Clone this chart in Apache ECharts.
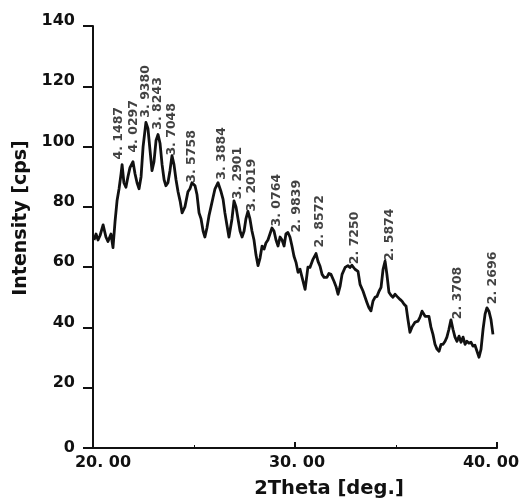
<!DOCTYPE html>
<html>
<head>
<meta charset="utf-8">
<script src="https://cdn.jsdelivr.net/npm/echarts@6/dist/echarts.min.js"></script>
<style>
html,body{margin:0;padding:0;background:#fff;}
#chart{width:529px;height:504px;}
</style>
</head>
<body>
<div id="chart"></div>
<script>
// 2Theta (deg.) positions of the traced pattern
const twoTheta = [20.05,20.15,20.25,20.35,20.50,20.64,20.74,20.89,20.99,21.09,21.19,21.29,21.39,21.44,21.53,21.63,21.73,21.83,21.98,22.08,22.18,22.28,22.38,22.48,22.62,22.72,22.82,22.92,23.02,23.12,23.22,23.32,23.42,23.52,23.61,23.71,23.81,23.91,24.01,24.11,24.21,24.31,24.41,24.55,24.70,24.80,24.90,25.05,25.15,25.25,25.35,25.45,25.54,25.64,25.74,25.84,25.94,26.04,26.19,26.34,26.44,26.53,26.63,26.73,26.88,26.98,27.08,27.18,27.28,27.38,27.48,27.57,27.67,27.77,27.87,27.97,28.07,28.17,28.27,28.37,28.47,28.56,28.66,28.76,28.86,28.96,29.06,29.16,29.26,29.36,29.46,29.55,29.65,29.75,29.85,29.95,30.05,30.15,30.25,30.35,30.50,30.64,30.74,30.89,31.04,31.14,31.24,31.34,31.44,31.58,31.68,31.78,31.93,32.03,32.13,32.23,32.33,32.48,32.62,32.72,32.82,32.97,33.12,33.22,33.37,33.47,33.56,33.66,33.76,33.86,33.96,34.06,34.16,34.26,34.36,34.46,34.55,34.65,34.75,34.85,34.95,35.05,35.20,35.30,35.40,35.50,35.59,35.69,35.79,35.94,36.09,36.19,36.29,36.44,36.53,36.63,36.73,36.83,36.93,37.03,37.13,37.23,37.33,37.43,37.52,37.62,37.72,37.82,37.92,38.02,38.12,38.22,38.32,38.42,38.51,38.61,38.71,38.81,38.91,39.01,39.11,39.21,39.31,39.41,39.50,39.60,39.70,39.80,39.90,40.00,40.10];
// intensity (cps) at each position
const intensity = [69,71,69,70.5,74,70,68.5,71,66.5,75,82,86,91,94,88,86.5,90,93,95,91,88,86,90,100,108,106,99,92,95,102,104,101,94,89,87,88,92,97,94,89,85,82,78,80,85,86,88,87,84,78,76,72,70,73,77,80,83,86,88,85,82.5,78,74,70,76,82,80,76,72,70,72,76,78.5,76,72,69,64,60.5,63,67,66,68,69,71,73,72,69,67,70,69,67,71,71.5,70,67,63.6,61.6,58.3,59.3,56.6,52.6,60,59.9,62.6,64.5,61.9,60.3,57.6,56.6,56.6,57.9,57.6,55.3,53.6,51,53.6,57.6,59.9,60.5,59.9,60.6,59.3,58.6,54.3,52,50,48.3,46.5,45.5,48.7,50,50.3,52,53.3,59.3,62,57.6,51.7,50.7,50,51,50.3,49.3,48.7,47.7,47,42.7,38.4,40.1,41.7,42.1,43.4,45.4,43.7,44,43.7,40.1,37.7,34.4,32.8,32.1,34.4,34.4,35.4,36.8,39.4,42.5,39.4,36.8,35.4,37.1,35.1,36.8,34.4,35.4,34.8,35.1,33.8,34.1,32.1,30.1,32.8,39.4,44.4,46.5,45.4,42.7,37.7];

// peak annotations (d-spacing)
const peakText = ['4. 1487','4. 0297','3. 9380','3. 8243','3. 7048','3. 5758','3. 3884','3. 2901','3. 2019','3. 0764','2. 9839','2. 8572','2. 7250','2. 5874','2. 3708','2. 2696'];
const peakX = [21.28,22.02,22.62,23.19,23.91,24.90,26.39,27.18,27.87,29.11,30.10,31.24,32.97,34.70,38.07,39.78];
const peakY = [95.7,98,109.6,105.6,97,88,89,82.5,78.5,73.5,71.5,66.5,61,62,42.7,47.7];

const xTickLabels = ['20. 00','30. 00','40. 00'];
const yTickLabels = ['0','20','40','60','80','100','120','140'];

const chart = echarts.init(document.getElementById('chart'), null, {renderer:'canvas'});
const lineData = twoTheta.map((x,i)=>[x,intensity[i]]);
const labelData = peakX.map((x,i)=>[x,peakY[i],peakText[i]]);
const tickFont = {fontFamily:'DejaVu Sans', fontWeight:'bold', fontSize:16, color:'#111'};

chart.setOption({
  animation:false,
  backgroundColor:'#fff',
  grid:{left:93,right:32,top:26,bottom:55,containLabel:false},
  xAxis:{
    type:'value', min:20, max:40, interval:10,
    name:'2Theta [deg.]', nameLocation:'middle', nameGap:31,
    nameTextStyle:{fontFamily:'DejaVu Sans', fontWeight:'bold', fontSize:19.5, color:'#111', padding:[0,0,0,68]},
    axisLine:{show:true, lineStyle:{color:'#111', width:2}},
    axisTick:{show:true, inside:true, length:6, lineStyle:{color:'#111', width:2}},
    minorTick:{show:true, splitNumber:2, length:3, lineStyle:{color:'#111', width:1}},
    splitLine:{show:false},
    axisLabel:{
      margin:7,
      formatter:function(v){
        const i = Math.round((v-20)/10);
        const key = ['a','b','c'][i];
        return '{' + key + '|' + xTickLabels[i] + '}';
      },
      rich:{
        a:Object.assign({padding:[0,0,0,20]}, tickFont),
        b:Object.assign({padding:[0,0,0,4]}, tickFont),
        c:Object.assign({padding:[0,12,0,0]}, tickFont)
      }
    }
  },
  yAxis:{
    type:'value', min:0, max:140, interval:20,
    name:'Intensity [cps]', nameLocation:'middle', nameGap:56, nameRotate:90,
    nameTextStyle:{fontFamily:'DejaVu Sans', fontWeight:'bold', fontSize:19, color:'#111', padding:[0,0,0,38]},
    axisLine:{show:true, lineStyle:{color:'#111', width:2}},
    axisTick:{show:true, inside:false, length:10, lineStyle:{color:'#111', width:2}},
    splitLine:{show:false},
    axisLabel:{
      margin:18,
      formatter:function(v){
        const i = Math.round(v/20);
        return '{' + (i===0 ? 'z' : 'n') + '|' + yTickLabels[i] + '}';
      },
      rich:{
        z:Object.assign({}, tickFont),
        n:Object.assign({padding:[0,0,10,0]}, tickFont)
      }
    }
  },
  series:[
    {
      type:'line', data:lineData, showSymbol:false, clip:false,
      lineStyle:{color:'#111', width:2.8, join:'round'}
    },
    {
      type:'scatter', data:labelData, symbolSize:0, silent:true,
      label:{
        show:true, position:'inside', rotate:90, align:'left', verticalAlign:'middle',
        formatter:function(p){return p.data[2];},
        fontFamily:'DejaVu Sans', fontWeight:'bold', fontSize:12.5, color:'#111'
      }
    }
  ]
});
</script>
</body>
</html>
